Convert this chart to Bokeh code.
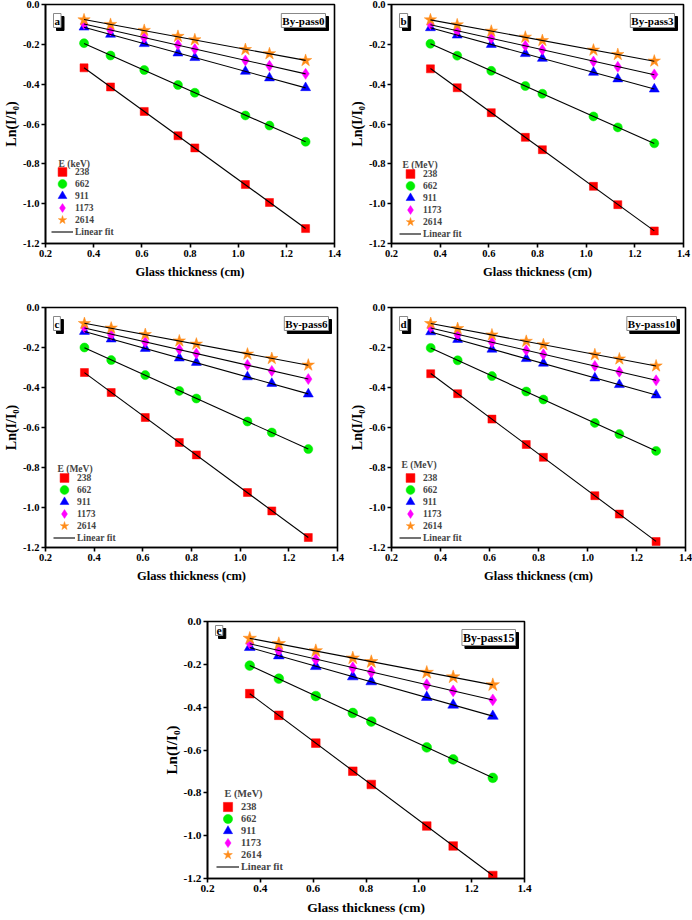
import numpy as np
from bokeh.plotting import figure
from bokeh.models import Range1d, FixedTicker, PrintfTickFormatter, Label, Legend, LegendItem, Spacer
from bokeh.layouts import row, column
from bokeh.embed import file_html
from bokeh.resources import INLINE

# ---------------- data ----------------
thickness = [0.36, 0.47, 0.61, 0.75, 0.82, 1.03, 1.13, 1.28]
energies = ["238", "662", "911", "1173", "2614"]
x_ticks = [0.2, 0.4, 0.6, 0.8, 1.0, 1.2, 1.4]
y_ticks = [-1.2, -1.0, -0.8, -0.6, -0.4, -0.2, 0.0]

# By-pass0 (panel a)
bp0_238 = [-0.318, -0.414, -0.537, -0.659, -0.720, -0.904, -0.994, -1.125]
bp0_662 = [-0.194, -0.256, -0.329, -0.404, -0.443, -0.557, -0.608, -0.689]
bp0_911 = [-0.114, -0.150, -0.197, -0.244, -0.267, -0.336, -0.369, -0.418]
bp0_1173 = [-0.097, -0.130, -0.167, -0.202, -0.224, -0.281, -0.308, -0.348]
bp0_2614 = [-0.077, -0.100, -0.130, -0.160, -0.177, -0.226, -0.247, -0.281]

# By-pass3 (panel b)
bp3_238 = [-0.323, -0.418, -0.543, -0.667, -0.729, -0.913, -1.005, -1.137]
bp3_662 = [-0.197, -0.257, -0.333, -0.409, -0.448, -0.562, -0.617, -0.697]
bp3_911 = [-0.117, -0.154, -0.201, -0.247, -0.271, -0.341, -0.374, -0.425]
bp3_1173 = [-0.099, -0.134, -0.170, -0.207, -0.227, -0.286, -0.313, -0.351]
bp3_2614 = [-0.077, -0.102, -0.134, -0.164, -0.181, -0.229, -0.251, -0.284]

# By-pass6 (panel c)
bp6_238 = [-0.325, -0.425, -0.550, -0.675, -0.737, -0.925, -1.017, -1.150]
bp6_662 = [-0.200, -0.263, -0.338, -0.417, -0.455, -0.570, -0.625, -0.708]
bp6_911 = [-0.120, -0.158, -0.205, -0.253, -0.275, -0.347, -0.380, -0.433]
bp6_1173 = [-0.100, -0.137, -0.173, -0.210, -0.230, -0.287, -0.317, -0.358]
bp6_2614 = [-0.080, -0.103, -0.135, -0.167, -0.183, -0.233, -0.255, -0.288]

# By-pass10 (panel d)
bp10_238 = [-0.331, -0.431, -0.558, -0.685, -0.749, -0.941, -1.033, -1.170]
bp10_662 = [-0.202, -0.264, -0.343, -0.420, -0.460, -0.577, -0.633, -0.717]
bp10_911 = [-0.122, -0.160, -0.209, -0.256, -0.279, -0.353, -0.386, -0.438]
bp10_1173 = [-0.100, -0.137, -0.174, -0.214, -0.234, -0.292, -0.321, -0.364]
bp10_2614 = [-0.080, -0.105, -0.137, -0.169, -0.186, -0.236, -0.257, -0.292]

# By-pass15 (panel e)
bp15_238 = [-0.337, -0.438, -0.568, -0.699, -0.761, -0.955, -1.048, -1.186]
bp15_662 = [-0.206, -0.267, -0.348, -0.427, -0.467, -0.588, -0.644, -0.730]
bp15_911 = [-0.121, -0.160, -0.210, -0.258, -0.281, -0.354, -0.390, -0.442]
bp15_1173 = [-0.101, -0.137, -0.177, -0.216, -0.236, -0.295, -0.324, -0.366]
bp15_2614 = [-0.079, -0.104, -0.137, -0.171, -0.188, -0.238, -0.259, -0.296]

# ---------------- style ----------------
FONT = "Liberation Serif"
markers = ["square", "circle", "triangle", "diamond", "star"]
colors = ["#ff0000", "#00ee00", "#0000ff", "#ff00ff", "#ff8c1a"]
msizes = [8, 9, 10, 11, 13]


def make_panel(letter, tag, unit, series, width, height, borders, sc=1.0,
               leg_x=7, leg_y=5, head_x=12, head_y=80, step=12, tag_dy=8, letter_dy=8):
    bl, br, bt, bb = borders
    p = figure(width=width, height=height,
               x_range=Range1d(0.2, 1.4), y_range=Range1d(-1.2, 0.0),
               output_backend="svg", toolbar_location=None,
               min_border_left=bl, min_border_right=br,
               min_border_top=bt, min_border_bottom=bb,
               background_fill_color="white", border_fill_color="white")
    p.outline_line_color = "black"
    p.outline_line_width = 1.6
    p.xgrid.visible = False
    p.ygrid.visible = False

    p.xaxis.ticker = FixedTicker(ticks=x_ticks, minor_ticks=[])
    p.yaxis.ticker = FixedTicker(ticks=y_ticks, minor_ticks=[])
    p.xaxis.formatter = PrintfTickFormatter(format="%.1f")
    p.yaxis.formatter = PrintfTickFormatter(format="%.1f")
    for ax in (p.xaxis, p.yaxis):
        ax.axis_line_width = 1.6
        ax.major_tick_line_width = 1.6
        ax.major_tick_out = 4
        ax.major_tick_in = 0
        ax.minor_tick_out = 0
        ax.minor_tick_in = 0
        ax.major_label_text_font = FONT
        ax.major_label_text_font_style = "bold"
        ax.major_label_text_font_size = f"{10.5*sc:.1f}px"
        ax.major_label_text_color = "black"
        ax.axis_label_text_font = FONT
        ax.axis_label_text_font_style = "bold"
        ax.axis_label_text_color = "black"
        ax.major_label_standoff = 2
    p.xaxis.axis_label = "Glass thickness (cm)"
    p.xaxis.axis_label_text_font_size = f"{12.5*sc:.1f}px"
    p.xaxis.axis_label_standoff = 5
    p.yaxis.axis_label = "Ln(I/I\u2080)"
    p.yaxis.axis_label_text_font_size = f"{14*sc:.1f}px"
    p.yaxis.axis_label_standoff = 1

    rs = []
    for ys, m, c, s in zip(series, markers, colors, msizes):
        r = p.scatter(thickness, ys, marker=m, size=s * sc, fill_color=c,
                      line_color=c, line_width=0.5)
        rs.append(r)
    lines = []
    xt = np.array(thickness)
    for ys in series:
        k, b = np.polyfit(xt, np.array(ys), 1)
        xf = [xt.min(), xt.max()]
        lr = p.line(xf, [k * xf[0] + b, k * xf[1] + b], line_color="black", line_width=1.1)
        lines.append(lr)

    # one single-entry legend per row, so the swatches keep a large size
    gh = 23
    items = [LegendItem(label=e, renderers=[r]) for e, r in zip(energies, rs)]
    items.append(LegendItem(label="Linear fit", renderers=[lines[0]]))
    n = len(items)
    for i, it in enumerate(items):
        yc = leg_y + (n - 1 - i) * step
        leg = Legend(items=[it], location=(leg_x, int(round(yc - gh / 2))), padding=0, margin=0,
                     spacing=0, glyph_height=gh, label_height=gh,
                     glyph_width=int(22 * sc), label_standoff=2,
                     label_text_font=FONT, label_text_font_style="bold",
                     label_text_font_size=f"{9.5*sc:.1f}px",
                     border_line_alpha=0, background_fill_alpha=0)
        p.add_layout(leg)

    p.add_layout(Label(x=0.2, y=-1.2, x_offset=head_x, y_offset=head_y,
                       text=f"E ({unit})", text_font=FONT, text_font_style="bold",
                       text_font_size=f"{9.5*sc:.1f}px", text_baseline="middle",
                       text_align="left"))

    # panel letter box with shadow
    for shadow in (True, False):
        off = 3 if shadow else 0
        p.add_layout(Label(x=0.2, y=0.0, x_offset=8 + off, y_offset=-(letter_dy + 1) - off,
                           text=letter, text_font=FONT, text_font_style="bold",
                           text_font_size=f"{11*sc:.1f}px", text_baseline="top",
                           text_align="left", padding=1,
                           text_color="black",
                           background_fill_color="black" if shadow else "white",
                           border_line_color="black" if shadow else "#888888",
                           border_line_width=1))
    for shadow in (True, False):
        off = 3 if shadow else 0
        p.add_layout(Label(x=1.4, y=0.0, x_offset=-9 + off, y_offset=-(tag_dy + 1) - off,
                           text=tag, text_font=FONT, text_font_style="bold",
                           text_font_size=f"{11*sc:.1f}px", text_baseline="top",
                           text_align="right", padding=1,
                           text_color="black",
                           background_fill_color="black" if shadow else "white",
                           border_line_color="black" if shadow else "#888888",
                           border_line_width=1))
    return p


# leg_y: height (px) of the "Linear fit" entry centre above the frame bottom
pa = make_panel("a", "By-pass0", "keV", [bp0_238, bp0_662, bp0_911, bp0_1173, bp0_2614],
                346, 300, (40, 12, 4, 57), leg_x=6, leg_y=12, head_x=13, head_y=80)
pb = make_panel("b", "By-pass3", "MeV", [bp3_238, bp3_662, bp3_911, bp3_1173, bp3_2614],
                346, 300, (43, 9, 4, 57), leg_x=8, leg_y=10, head_x=11, head_y=79)
pc = make_panel("c", "By-pass6", "MeV", [bp6_238, bp6_662, bp6_911, bp6_1173, bp6_2614],
                346, 300, (42, 9, 7, 53), leg_x=8, leg_y=10, head_x=12, head_y=79)
pd = make_panel("d", "By-pass10", "MeV", [bp10_238, bp10_662, bp10_911, bp10_1173, bp10_2614],
                346, 300, (45, 7, 7, 53), leg_x=8, leg_y=10, head_x=10, head_y=83)
pe = make_panel("e", "By-pass15", "MeV", [bp15_238, bp15_662, bp15_911, bp15_1173, bp15_2614],
                376, 320, (46, 12, 21, 42), sc=1.08, leg_x=9, leg_y=11, head_x=17, head_y=85,
                step=12, letter_dy=3, tag_dy=7)

layout = column(row(pa, pb), row(pc, pd), row(Spacer(width=160, height=320), pe))

open("out.html", "w").write(file_html(layout, INLINE))
